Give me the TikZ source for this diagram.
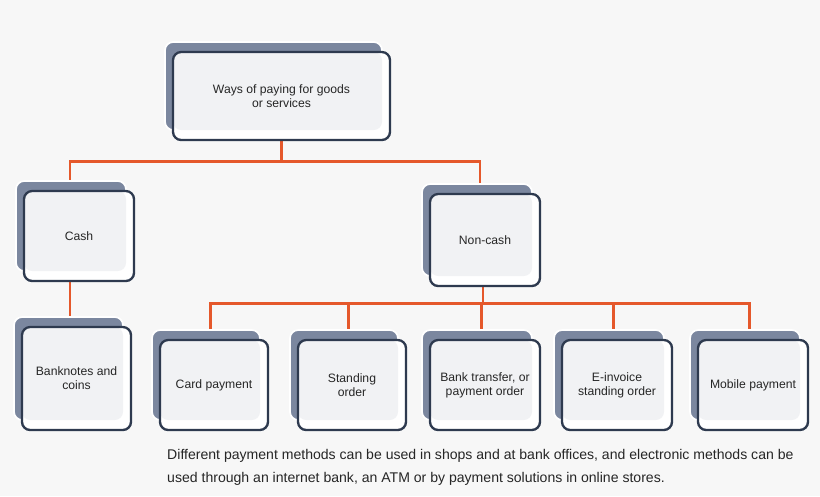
\documentclass[tikz,border=0pt]{standalone}
\usepackage{fontspec}
\setmainfont{Liberation Sans}
\usetikzlibrary{backgrounds}
\definecolor{slate}{HTML}{7B879F}
\definecolor{rim}{HTML}{2E3A4F}
\definecolor{paper}{HTML}{F1F2F4}
\definecolor{wire}{HTML}{E5582B}
\tikzset{
  box/.style = {draw=rim, line width=2pt, rounded corners=7pt, fill=white, align=center,
                font=\fontsize{10.4}{12}\selectfont, text=black!85,
                path picture={\fill[paper] (path picture bounding box.north west)
                  rectangle ([xshift=-0.24cm,yshift=0.3cm]path picture bounding box.south east);}},
  ghost/.style = {draw=white, line width=1.5pt, fill=slate, rounded corners=7pt},
  link/.style = {draw=wire, line width=2.5pt}
}
% one box with its shadow: name, x, y, width, height, text
\newcommand{\paybox}[6]{
  \fill[ghost] (#2-#4/2-8,#3-#5/2-10) rectangle (#2+#4/2-8,#3+#5/2-10);
  \node[box, minimum width=#4*0.03cm, minimum height=#5*0.03cm] (#1) at (#2,#3) {#6};
}
\begin{document}
\begin{tikzpicture}[x=0.03cm, y=-0.03cm]
  \useasboundingbox (0,0) rectangle (820,496);

  \paybox{ways}{281.5}{96}{217}{88}{Ways of paying for goods\\or services}
  \paybox{cash}{79}{236}{110}{90}{Cash}
  \paybox{noncash}{485}{240}{110}{92}{Non-cash}

  \paybox{notes}{76.5}{378.5}{109}{103}{Banknotes and\\coins}
  \paybox{card}{214}{385}{108}{90}{Card payment}
  \paybox{standing}{352}{385}{108}{90}{Standing\\order}
  \paybox{transfer}{485}{385}{110}{90}{Bank transfer, or\\payment order}
  \paybox{einvoice}{617}{385}{110}{90}{E-invoice\\standing order}
  \paybox{mobile}{753}{385}{110}{90}{Mobile payment}

  \begin{scope}[on background layer]
    \fill[white!97!black] (0,0) rectangle (820,496);
    \draw[link] (ways.south) -- ++(0,20) coordinate (split);
    \draw[link] (split) -| ([xshift=-0.27cm]cash.north);
    \draw[link] (split) -| ([xshift=-0.15cm]noncash.north);
    \draw[link] ([xshift=-0.27cm]cash.south) -- ([xshift=-0.27cm]cash.south |- notes.north);
    \draw[link] ([xshift=-0.06cm]noncash.south) -- ++(0,16) coordinate (fork);
    \foreach \leaf in {card,standing,transfer,einvoice,mobile}
      \draw[link] (fork) -| ([xshift=-0.1cm]\leaf.north);
  \end{scope}

  \node[anchor=north west, align=left, font=\fontsize{12}{19.5}\selectfont, text=black!85, inner sep=0pt]
    (note) at (167,449) {Different payment methods can be used in shops and at bank offices, and electronic methods can be\\
    used through an internet bank, an ATM or by payment solutions in online stores.};
\end{tikzpicture}
\end{document}
